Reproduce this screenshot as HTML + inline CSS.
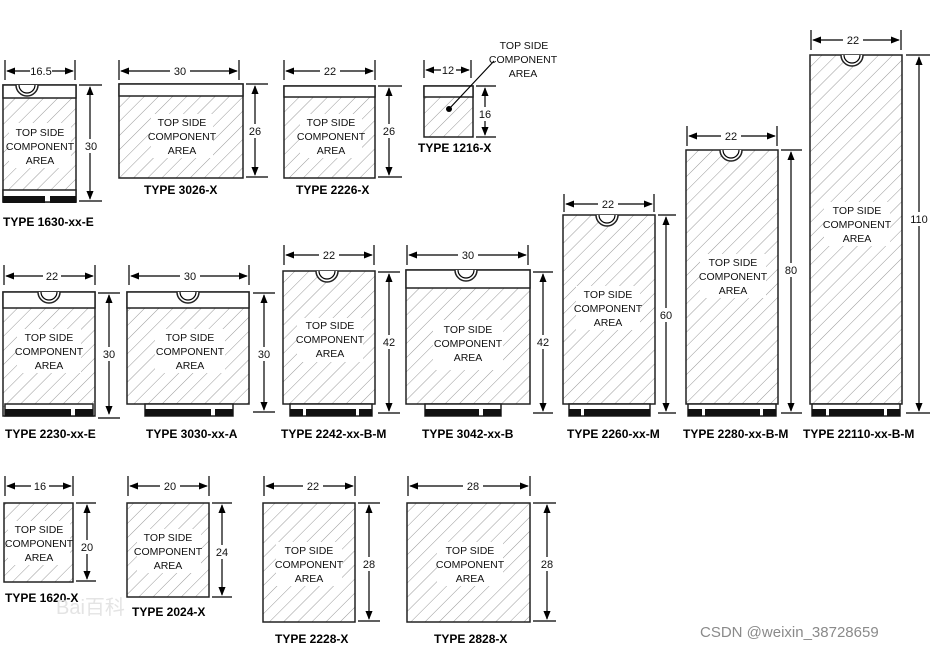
<!DOCTYPE html>
<html><head><meta charset="utf-8"><style>
html,body{margin:0;padding:0;background:#fff;}
svg{display:block;}
text{font-family:"Liberation Sans",Arial,sans-serif;}
.l{font-size:10.5px;fill:#111;text-anchor:middle;}
.d{font-size:11px;fill:#111;text-anchor:middle;}
.t{font-size:12px;font-weight:bold;fill:#000;}
.b{fill:url(#h);stroke:#222;stroke-width:1.5;}
.s{fill:#fff;stroke:#222;stroke-width:1.5;}
.ln{stroke:#000;stroke-width:1.2;fill:none;}
.k{fill:#111;}
</style></head><body>
<svg width="946" height="651" viewBox="0 0 946 651" xmlns="http://www.w3.org/2000/svg">
<defs>
<pattern id="h" patternUnits="userSpaceOnUse" width="10" height="10" patternTransform="rotate(45)">
<rect width="10" height="10" fill="#fff"/>
<line x1="0" y1="0" x2="0" y2="10" stroke="#999" stroke-width="1"/>
</pattern>
<marker id="a" viewBox="0 0 10 10" refX="9" refY="5" markerWidth="9" markerHeight="9" orient="auto-start-reverse" markerUnits="userSpaceOnUse"><path d="M0,1 L10,5 L0,9z" fill="#000"/></marker>
</defs>

<!-- 1630-xx-E -->
<rect class="b" x="3" y="85" width="73" height="117"/>
<rect class="s" x="3" y="85" width="73" height="13"/>
<path d="M16,85 A11,11 0 0 0 38,85" class="s"/><path d="M19,85 A8,8 0 0 0 35,85" class="ln"/>
<rect class="s" x="3" y="190" width="73" height="12"/>
<rect class="k" x="3" y="196" width="42" height="7"/><rect class="k" x="50" y="196" width="26" height="7"/>
<rect x="9" y="123" width="62" height="45" fill="#fff"/>
<text class="l" x="40" y="136">TOP SIDE</text><text class="l" x="40" y="150">COMPONENT</text><text class="l" x="40" y="164">AREA</text>
<line class="ln" x1="5" y1="60" x2="5" y2="80"/><line class="ln" x1="75" y1="60" x2="75" y2="80"/>
<line class="ln" x1="7" y1="71" x2="73" y2="71" marker-start="url(#a)" marker-end="url(#a)"/>
<rect x="30" y="64" width="22" height="13" fill="#fff"/><text class="d" x="41" y="75">16.5</text>
<line class="ln" x1="79" y1="85" x2="102" y2="85"/><line class="ln" x1="79" y1="201" x2="102" y2="201"/>
<line class="ln" x1="90" y1="87" x2="90" y2="199" marker-start="url(#a)" marker-end="url(#a)"/>
<rect x="84" y="139" width="14" height="14" fill="#fff"/><text class="d" x="91" y="150">30</text>
<text class="t" x="3" y="226">TYPE 1630-xx-E</text>

<!-- 3026-X -->
<rect class="b" x="119" y="84" width="124" height="94"/>
<rect class="s" x="119" y="84" width="124" height="12"/>
<rect x="151" y="114" width="62" height="44" fill="#fff"/>
<text class="l" x="182" y="126">TOP SIDE</text><text class="l" x="182" y="140">COMPONENT</text><text class="l" x="182" y="154">AREA</text>
<line class="ln" x1="119" y1="60" x2="119" y2="80"/><line class="ln" x1="239" y1="60" x2="239" y2="80"/>
<line class="ln" x1="121" y1="71" x2="237" y2="71" marker-start="url(#a)" marker-end="url(#a)"/>
<rect x="170" y="64" width="20" height="13" fill="#fff"/><text class="d" x="180" y="75">30</text>
<line class="ln" x1="246" y1="84" x2="268" y2="84"/><line class="ln" x1="246" y1="177" x2="268" y2="177"/>
<line class="ln" x1="255" y1="86" x2="255" y2="175" marker-start="url(#a)" marker-end="url(#a)"/>
<rect x="248" y="124" width="14" height="14" fill="#fff"/><text class="d" x="255" y="135">26</text>
<text class="t" x="144" y="194">TYPE 3026-X</text>

<!-- 2226-X -->
<rect class="b" x="284" y="86" width="91" height="92"/>
<rect class="s" x="284" y="86" width="91" height="11"/>
<rect x="300" y="114" width="62" height="44" fill="#fff"/>
<text class="l" x="331" y="126">TOP SIDE</text><text class="l" x="331" y="140">COMPONENT</text><text class="l" x="331" y="154">AREA</text>
<line class="ln" x1="284" y1="60" x2="284" y2="80"/><line class="ln" x1="375" y1="60" x2="375" y2="80"/>
<line class="ln" x1="286" y1="71" x2="373" y2="71" marker-start="url(#a)" marker-end="url(#a)"/>
<rect x="320" y="64" width="20" height="13" fill="#fff"/><text class="d" x="330" y="75">22</text>
<line class="ln" x1="378" y1="86" x2="402" y2="86"/><line class="ln" x1="378" y1="177" x2="402" y2="177"/>
<line class="ln" x1="389" y1="88" x2="389" y2="175" marker-start="url(#a)" marker-end="url(#a)"/>
<rect x="382" y="124" width="14" height="14" fill="#fff"/><text class="d" x="389" y="135">26</text>
<text class="t" x="296" y="194">TYPE 2226-X</text>

<!-- 1216-X -->
<rect class="b" x="424" y="86" width="49" height="51"/>
<rect class="s" x="424" y="86" width="49" height="11"/>
<line class="ln" x1="424" y1="60" x2="424" y2="78"/><line class="ln" x1="471" y1="60" x2="471" y2="78"/>
<line class="ln" x1="426" y1="70" x2="469" y2="70" marker-start="url(#a)" marker-end="url(#a)"/>
<rect x="441" y="63" width="15" height="13" fill="#fff"/><text class="d" x="448" y="74">12</text>
<line class="ln" x1="476" y1="86" x2="496" y2="86"/><line class="ln" x1="476" y1="137" x2="496" y2="137"/>
<line class="ln" x1="485" y1="88" x2="485" y2="135" marker-start="url(#a)" marker-end="url(#a)"/>
<rect x="478" y="107" width="14" height="14" fill="#fff"/><text class="d" x="485" y="118">16</text>
<line class="ln" x1="449" y1="109" x2="494" y2="61"/><circle cx="449" cy="109" r="3" fill="#000"/>
<text class="l" x="524" y="49">TOP SIDE</text><text class="l" x="523" y="63">COMPONENT</text><text class="l" x="523" y="77">AREA</text>
<text class="t" x="418" y="152">TYPE 1216-X</text>

<!-- 2230-xx-E -->
<rect class="b" x="3" y="292" width="92" height="124"/>
<rect class="s" x="3" y="292" width="92" height="16"/>
<path d="M38,292 A11,11 0 0 0 60,292" class="s"/><path d="M41,292 A8,8 0 0 0 57,292" class="ln"/>
<rect class="s" x="5" y="404" width="88" height="12"/>
<rect class="k" x="5" y="409" width="66" height="7"/><rect class="k" x="75" y="409" width="18" height="7"/>
<rect x="17" y="329" width="64" height="44" fill="#fff"/>
<text class="l" x="49" y="341">TOP SIDE</text><text class="l" x="49" y="355">COMPONENT</text><text class="l" x="49" y="369">AREA</text>
<line class="ln" x1="4" y1="265" x2="4" y2="285"/><line class="ln" x1="95" y1="265" x2="95" y2="285"/>
<line class="ln" x1="6" y1="276" x2="93" y2="276" marker-start="url(#a)" marker-end="url(#a)"/>
<rect x="43" y="269" width="18" height="13" fill="#fff"/><text class="d" x="52" y="280">22</text>
<line class="ln" x1="98" y1="293" x2="120" y2="293"/><line class="ln" x1="98" y1="418" x2="120" y2="418"/>
<line class="ln" x1="109" y1="295" x2="109" y2="414" marker-start="url(#a)" marker-end="url(#a)"/>
<rect x="102" y="347" width="14" height="14" fill="#fff"/><text class="d" x="109" y="358">30</text>
<text class="t" x="5" y="438">TYPE 2230-xx-E</text>

<!-- 3030-xx-A -->
<rect class="b" x="127" y="292" width="122" height="112"/>
<rect class="s" x="127" y="292" width="122" height="16"/>
<path d="M177,292 A11,11 0 0 0 199,292" class="s"/><path d="M180,292 A8,8 0 0 0 196,292" class="ln"/>
<rect class="s" x="145" y="404" width="88" height="12"/>
<rect class="k" x="145" y="409" width="66" height="7"/><rect class="k" x="215" y="409" width="18" height="7"/>
<rect x="155" y="329" width="70" height="44" fill="#fff"/>
<text class="l" x="190" y="341">TOP SIDE</text><text class="l" x="190" y="355">COMPONENT</text><text class="l" x="190" y="369">AREA</text>
<line class="ln" x1="129" y1="265" x2="129" y2="285"/><line class="ln" x1="249" y1="265" x2="249" y2="285"/>
<line class="ln" x1="131" y1="276" x2="247" y2="276" marker-start="url(#a)" marker-end="url(#a)"/>
<rect x="180" y="269" width="20" height="13" fill="#fff"/><text class="d" x="190" y="280">30</text>
<line class="ln" x1="253" y1="293" x2="275" y2="293"/><line class="ln" x1="253" y1="412" x2="275" y2="412"/>
<line class="ln" x1="264" y1="295" x2="264" y2="410" marker-start="url(#a)" marker-end="url(#a)"/>
<rect x="257" y="347" width="14" height="14" fill="#fff"/><text class="d" x="264" y="358">30</text>
<text class="t" x="146" y="438">TYPE 3030-xx-A</text>

<!-- 2242-xx-B-M -->
<rect class="b" x="283" y="271" width="92" height="133"/>
<path d="M316,271 A11,11 0 0 0 338,271" class="s"/><path d="M319,271 A8,8 0 0 0 335,271" class="ln"/>
<rect class="s" x="290" y="404" width="82" height="12"/>
<rect class="k" x="290" y="409" width="13" height="7"/><rect class="k" x="306" y="409" width="50" height="7"/><rect class="k" x="359" y="409" width="13" height="7"/>
<rect x="297" y="318" width="66" height="44" fill="#fff"/>
<text class="l" x="330" y="329">TOP SIDE</text><text class="l" x="330" y="343">COMPONENT</text><text class="l" x="330" y="357">AREA</text>
<line class="ln" x1="284" y1="245" x2="284" y2="265"/><line class="ln" x1="374" y1="245" x2="374" y2="265"/>
<line class="ln" x1="286" y1="255" x2="372" y2="255" marker-start="url(#a)" marker-end="url(#a)"/>
<rect x="319" y="248" width="20" height="13" fill="#fff"/><text class="d" x="329" y="259">22</text>
<line class="ln" x1="378" y1="272" x2="400" y2="272"/><line class="ln" x1="378" y1="413" x2="400" y2="413"/>
<line class="ln" x1="389" y1="274" x2="389" y2="411" marker-start="url(#a)" marker-end="url(#a)"/>
<rect x="382" y="335" width="14" height="14" fill="#fff"/><text class="d" x="389" y="346">42</text>
<text class="t" x="281" y="438">TYPE 2242-xx-B-M</text>

<!-- 3042-xx-B -->
<rect class="b" x="406" y="270" width="124" height="134"/>
<rect class="s" x="406" y="270" width="124" height="18"/>
<path d="M455,270 A11,11 0 0 0 477,270" class="s"/><path d="M458,270 A8,8 0 0 0 474,270" class="ln"/>
<rect class="s" x="425" y="404" width="76" height="12"/>
<rect class="k" x="425" y="409" width="54" height="7"/><rect class="k" x="483" y="409" width="18" height="7"/>
<rect x="433" y="320" width="70" height="50" fill="#fff"/>
<text class="l" x="468" y="333">TOP SIDE</text><text class="l" x="468" y="347">COMPONENT</text><text class="l" x="468" y="361">AREA</text>
<line class="ln" x1="407" y1="245" x2="407" y2="265"/><line class="ln" x1="528" y1="245" x2="528" y2="265"/>
<line class="ln" x1="409" y1="255" x2="526" y2="255" marker-start="url(#a)" marker-end="url(#a)"/>
<rect x="458" y="248" width="20" height="13" fill="#fff"/><text class="d" x="468" y="259">30</text>
<line class="ln" x1="533" y1="272" x2="553" y2="272"/><line class="ln" x1="533" y1="413" x2="553" y2="413"/>
<line class="ln" x1="543" y1="274" x2="543" y2="411" marker-start="url(#a)" marker-end="url(#a)"/>
<rect x="536" y="335" width="14" height="14" fill="#fff"/><text class="d" x="543" y="346">42</text>
<text class="t" x="422" y="438">TYPE 3042-xx-B</text>

<!-- 2260-xx-M -->
<rect class="b" x="563" y="215" width="92" height="189"/>
<path d="M596,215 A11,11 0 0 0 618,215" class="s"/><path d="M599,215 A8,8 0 0 0 615,215" class="ln"/>
<rect class="s" x="569" y="404" width="81" height="12"/>
<rect class="k" x="569" y="409" width="12" height="7"/><rect class="k" x="584" y="409" width="66" height="7"/>
<rect x="576" y="286" width="64" height="44" fill="#fff"/>
<text class="l" x="608" y="298">TOP SIDE</text><text class="l" x="608" y="312">COMPONENT</text><text class="l" x="608" y="326">AREA</text>
<line class="ln" x1="564" y1="194" x2="564" y2="212"/><line class="ln" x1="654" y1="194" x2="654" y2="212"/>
<line class="ln" x1="566" y1="204" x2="652" y2="204" marker-start="url(#a)" marker-end="url(#a)"/>
<rect x="598" y="197" width="20" height="13" fill="#fff"/><text class="d" x="608" y="208">22</text>
<line class="ln" x1="658" y1="215" x2="676" y2="215"/><line class="ln" x1="658" y1="413" x2="676" y2="413"/>
<line class="ln" x1="666" y1="217" x2="666" y2="411" marker-start="url(#a)" marker-end="url(#a)"/>
<rect x="659" y="308" width="14" height="14" fill="#fff"/><text class="d" x="666" y="319">60</text>
<text class="t" x="567" y="438">TYPE 2260-xx-M</text>

<!-- 2280-xx-B-M -->
<rect class="b" x="686" y="150" width="92" height="254"/>
<path d="M720,150 A11,11 0 0 0 742,150" class="s"/><path d="M723,150 A8,8 0 0 0 739,150" class="ln"/>
<rect class="s" x="688" y="404" width="88" height="12"/>
<rect class="k" x="688" y="409" width="14" height="7"/><rect class="k" x="705" y="409" width="55" height="7"/><rect class="k" x="763" y="409" width="13" height="7"/>
<rect x="700" y="254" width="66" height="44" fill="#fff"/>
<text class="l" x="733" y="266">TOP SIDE</text><text class="l" x="733" y="280">COMPONENT</text><text class="l" x="733" y="294">AREA</text>
<line class="ln" x1="687" y1="126" x2="687" y2="146"/><line class="ln" x1="777" y1="126" x2="777" y2="146"/>
<line class="ln" x1="689" y1="136" x2="775" y2="136" marker-start="url(#a)" marker-end="url(#a)"/>
<rect x="721" y="129" width="20" height="13" fill="#fff"/><text class="d" x="731" y="140">22</text>
<line class="ln" x1="781" y1="150" x2="802" y2="150"/><line class="ln" x1="781" y1="413" x2="802" y2="413"/>
<line class="ln" x1="791" y1="152" x2="791" y2="411" marker-start="url(#a)" marker-end="url(#a)"/>
<rect x="784" y="263" width="14" height="14" fill="#fff"/><text class="d" x="791" y="274">80</text>
<text class="t" x="683" y="438">TYPE 2280-xx-B-M</text>

<!-- 22110-xx-B-M -->
<rect class="b" x="810" y="55" width="92" height="349"/>
<path d="M841,55 A11,11 0 0 0 863,55" class="s"/><path d="M844,55 A8,8 0 0 0 860,55" class="ln"/>
<rect class="s" x="812" y="404" width="88" height="12"/>
<rect class="k" x="812" y="409" width="14" height="7"/><rect class="k" x="829" y="409" width="55" height="7"/><rect class="k" x="887" y="409" width="13" height="7"/>
<rect x="824" y="202" width="66" height="44" fill="#fff"/>
<text class="l" x="857" y="214">TOP SIDE</text><text class="l" x="857" y="228">COMPONENT</text><text class="l" x="857" y="242">AREA</text>
<line class="ln" x1="811" y1="30" x2="811" y2="50"/><line class="ln" x1="901" y1="30" x2="901" y2="50"/>
<line class="ln" x1="813" y1="40" x2="899" y2="40" marker-start="url(#a)" marker-end="url(#a)"/>
<rect x="843" y="33" width="20" height="13" fill="#fff"/><text class="d" x="853" y="44">22</text>
<line class="ln" x1="906" y1="55" x2="930" y2="55"/><line class="ln" x1="906" y1="413" x2="930" y2="413"/>
<line class="ln" x1="919" y1="57" x2="919" y2="411" marker-start="url(#a)" marker-end="url(#a)"/>
<rect x="909" y="212" width="20" height="14" fill="#fff"/><text class="d" x="919" y="223">110</text>
<text class="t" x="803" y="438">TYPE 22110-xx-B-M</text>

<!-- 1620-X -->
<rect class="b" x="4" y="503" width="69" height="79"/>
<rect x="8" y="521" width="62" height="44" fill="#fff"/>
<text class="l" x="39" y="533">TOP SIDE</text><text class="l" x="39" y="547">COMPONENT</text><text class="l" x="39" y="561">AREA</text>
<line class="ln" x1="5" y1="476" x2="5" y2="496"/><line class="ln" x1="73" y1="476" x2="73" y2="496"/>
<line class="ln" x1="7" y1="486" x2="71" y2="486" marker-start="url(#a)" marker-end="url(#a)"/>
<rect x="31" y="479" width="18" height="13" fill="#fff"/><text class="d" x="40" y="490">16</text>
<line class="ln" x1="76" y1="503" x2="96" y2="503"/><line class="ln" x1="76" y1="581" x2="96" y2="581"/>
<line class="ln" x1="87" y1="505" x2="87" y2="579" marker-start="url(#a)" marker-end="url(#a)"/>
<rect x="80" y="540" width="14" height="14" fill="#fff"/><text class="d" x="87" y="551">20</text>
<text class="t" x="5" y="602">TYPE 1620-X</text>

<!-- 2024-X -->
<rect class="b" x="127" y="503" width="82" height="94"/>
<rect x="137" y="529" width="64" height="44" fill="#fff"/>
<text class="l" x="168" y="541">TOP SIDE</text><text class="l" x="168" y="555">COMPONENT</text><text class="l" x="168" y="569">AREA</text>
<line class="ln" x1="128" y1="476" x2="128" y2="496"/><line class="ln" x1="209" y1="476" x2="209" y2="496"/>
<line class="ln" x1="130" y1="486" x2="207" y2="486" marker-start="url(#a)" marker-end="url(#a)"/>
<rect x="160" y="479" width="20" height="13" fill="#fff"/><text class="d" x="170" y="490">20</text>
<line class="ln" x1="212" y1="503" x2="232" y2="503"/><line class="ln" x1="212" y1="597" x2="232" y2="597"/>
<line class="ln" x1="222" y1="505" x2="222" y2="595" marker-start="url(#a)" marker-end="url(#a)"/>
<rect x="215" y="545" width="14" height="14" fill="#fff"/><text class="d" x="222" y="556">24</text>
<text class="t" x="132" y="616">TYPE 2024-X</text>

<!-- 2228-X -->
<rect class="b" x="263" y="503" width="92" height="119"/>
<rect x="276" y="542" width="66" height="44" fill="#fff"/>
<text class="l" x="309" y="554">TOP SIDE</text><text class="l" x="309" y="568">COMPONENT</text><text class="l" x="309" y="582">AREA</text>
<line class="ln" x1="264" y1="476" x2="264" y2="496"/><line class="ln" x1="355" y1="476" x2="355" y2="496"/>
<line class="ln" x1="266" y1="486" x2="353" y2="486" marker-start="url(#a)" marker-end="url(#a)"/>
<rect x="303" y="479" width="20" height="13" fill="#fff"/><text class="d" x="313" y="490">22</text>
<line class="ln" x1="358" y1="503" x2="380" y2="503"/><line class="ln" x1="358" y1="621" x2="380" y2="621"/>
<line class="ln" x1="369" y1="505" x2="369" y2="619" marker-start="url(#a)" marker-end="url(#a)"/>
<rect x="362" y="557" width="14" height="14" fill="#fff"/><text class="d" x="369" y="568">28</text>
<text class="t" x="275" y="643">TYPE 2228-X</text>

<!-- 2828-X -->
<rect class="b" x="407" y="503" width="123" height="119"/>
<rect x="437" y="542" width="66" height="44" fill="#fff"/>
<text class="l" x="470" y="554">TOP SIDE</text><text class="l" x="470" y="568">COMPONENT</text><text class="l" x="470" y="582">AREA</text>
<line class="ln" x1="408" y1="476" x2="408" y2="496"/><line class="ln" x1="530" y1="476" x2="530" y2="496"/>
<line class="ln" x1="410" y1="486" x2="528" y2="486" marker-start="url(#a)" marker-end="url(#a)"/>
<rect x="463" y="479" width="20" height="13" fill="#fff"/><text class="d" x="473" y="490">28</text>
<line class="ln" x1="533" y1="503" x2="556" y2="503"/><line class="ln" x1="533" y1="621" x2="556" y2="621"/>
<line class="ln" x1="547" y1="505" x2="547" y2="619" marker-start="url(#a)" marker-end="url(#a)"/>
<rect x="540" y="557" width="14" height="14" fill="#fff"/><text class="d" x="547" y="568">28</text>
<text class="t" x="434" y="643">TYPE 2828-X</text>

<text x="56" y="614" font-size="20" fill="#e4e4e4" font-family="Liberation Sans, sans-serif">Bai百科</text>
<text x="700" y="637" font-size="15" fill="#8a8a8a">CSDN @weixin_38728659</text>
</svg>
</body></html>
